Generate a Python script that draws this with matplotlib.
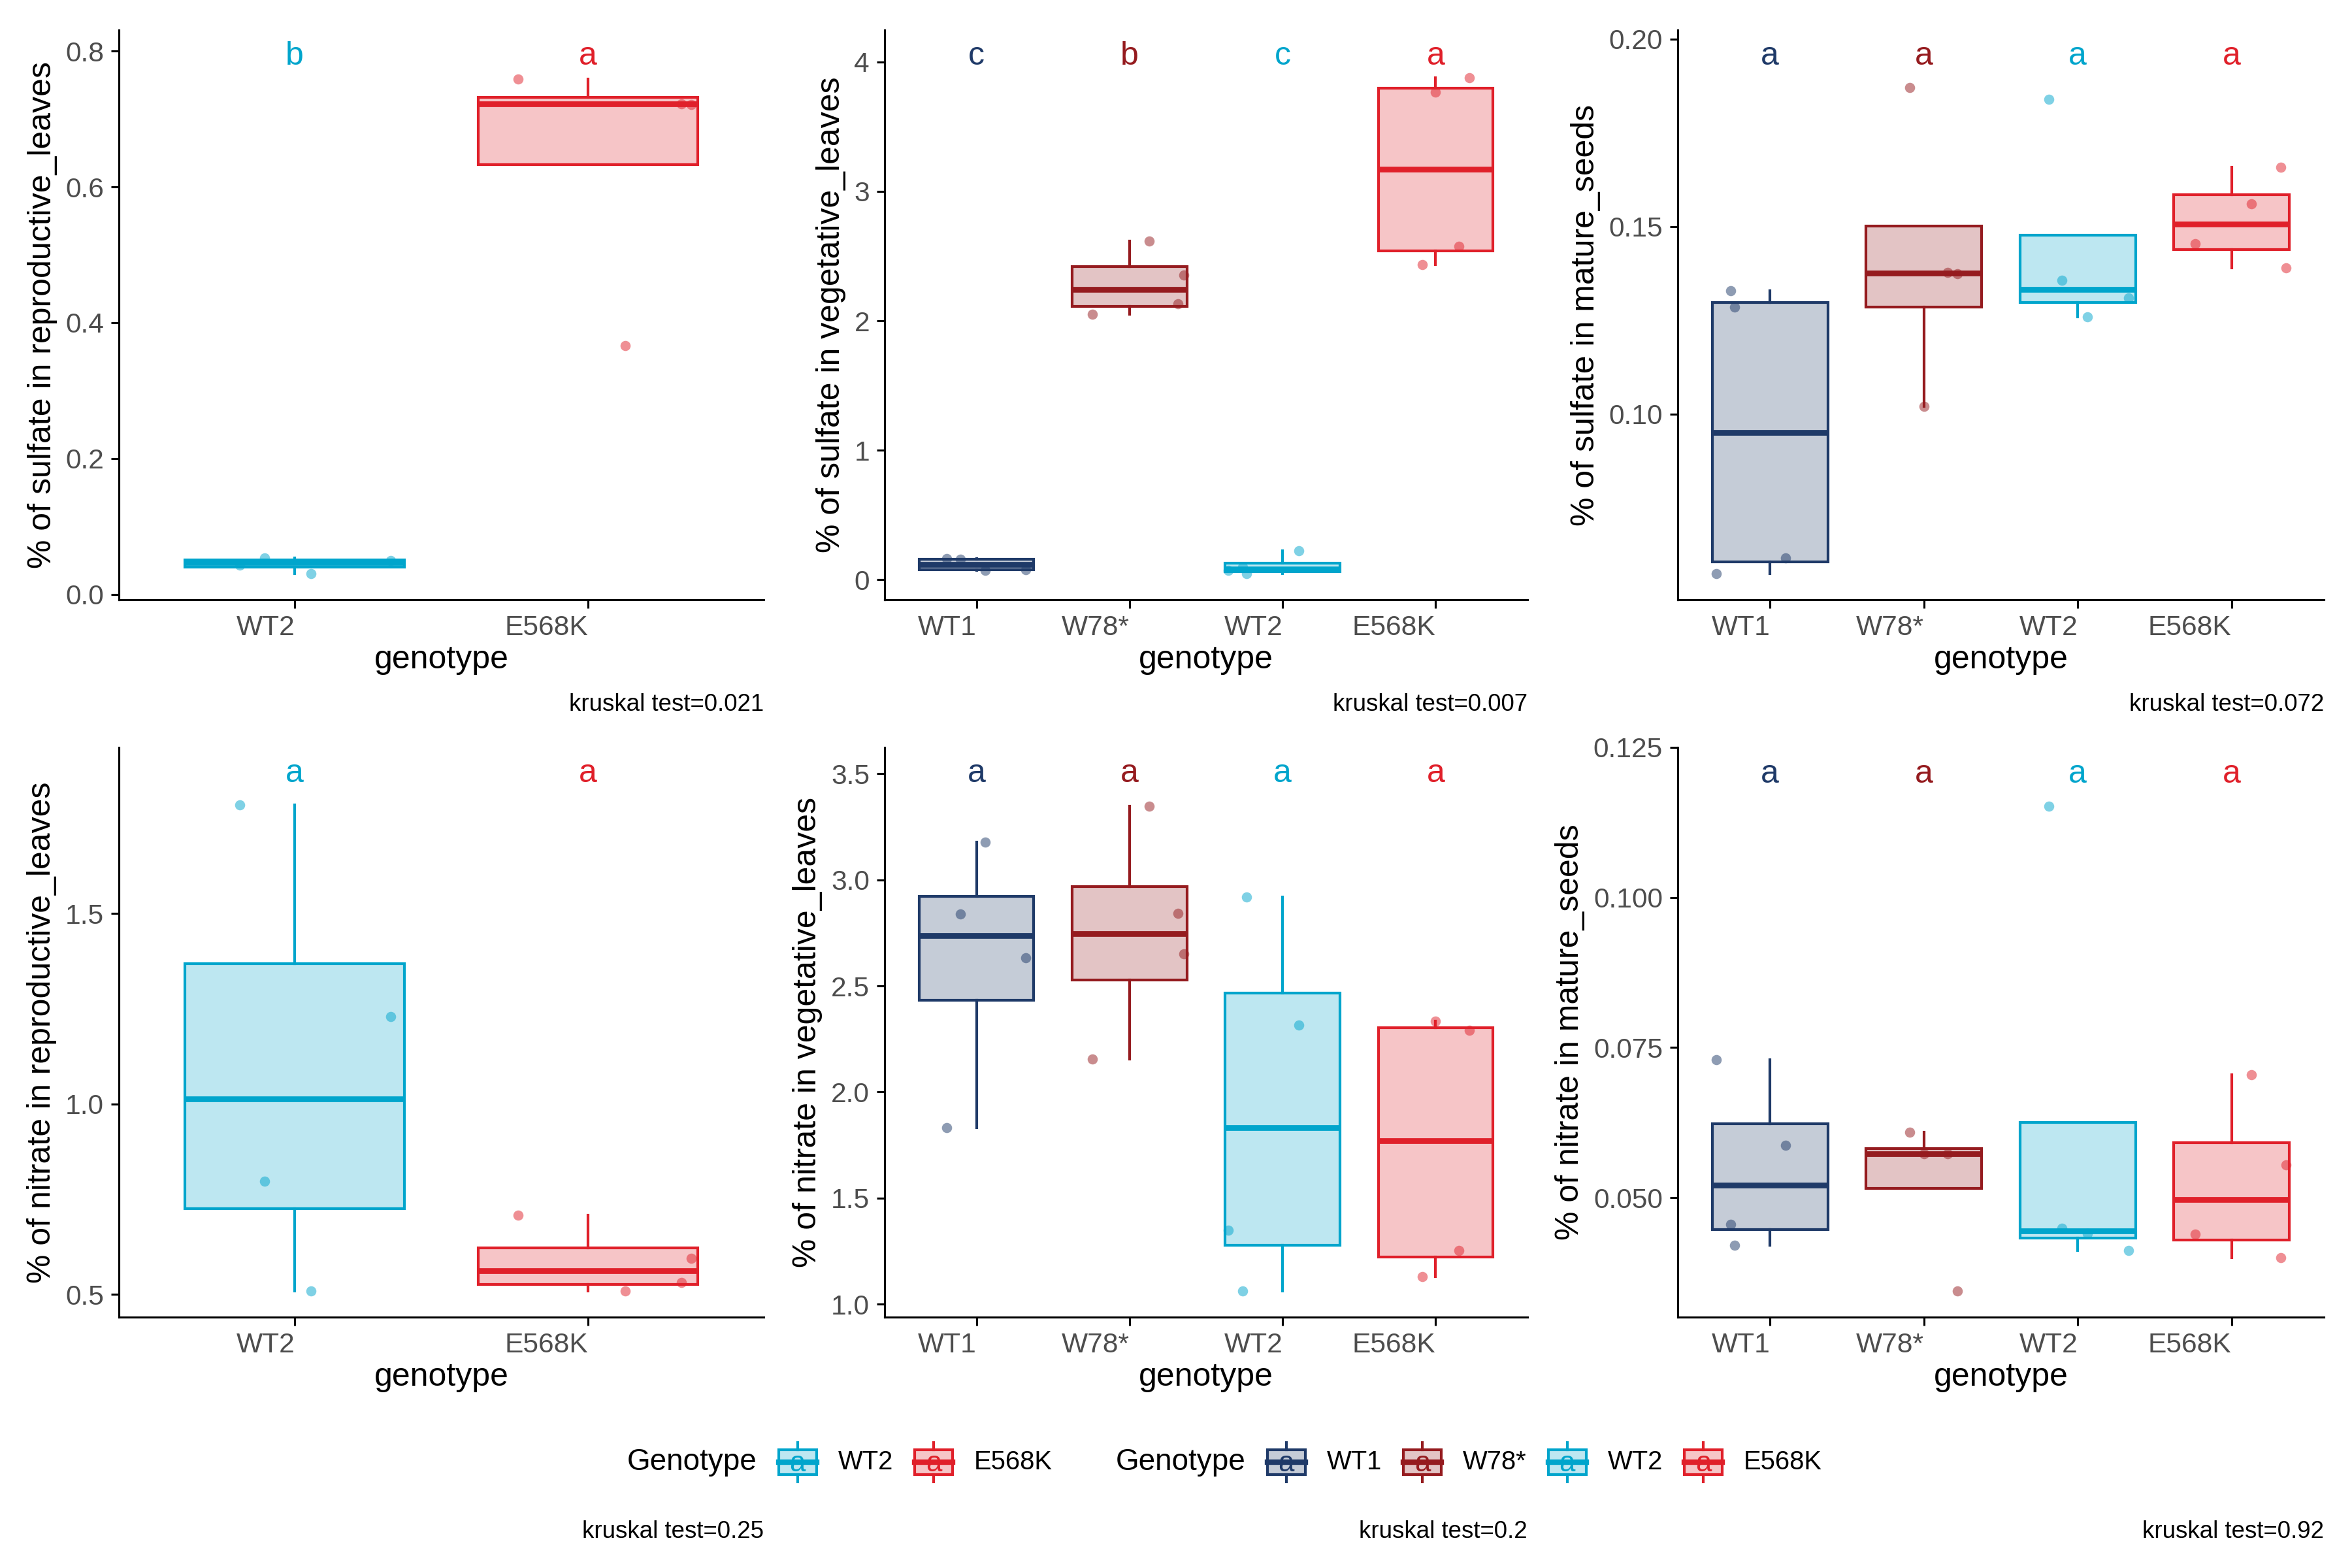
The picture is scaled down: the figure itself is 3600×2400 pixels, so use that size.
import matplotlib
matplotlib.use("Agg")
import numpy as np
import matplotlib.pyplot as plt
from matplotlib.patches import Rectangle
from matplotlib.lines import Line2D

plt.rcParams['font.family'] = ['Liberation Sans', 'DejaVu Sans']

W, H = 3600, 2400

colors = {"WT1": "#1F3A68", "W78*": "#951B1F", "WT2": "#00A5CC", "E568K": "#E0202A"}

geno_2 = ["WT2", "E568K"]
geno_4 = ["WT1", "W78*", "WT2", "E568K"]

# horizontal jitter of the points (one set per layout)
jit_2 = [[-0.188, -0.102, 0.056, 0.328], [-0.239, 0.128, 0.319, 0.353]]
jit_4a = [[-0.196, -0.104, 0.056, 0.323], [-0.242, 0.127, 0.317, 0.353],
          [-0.353, -0.26, -0.235, 0.104], [-0.088, 0.0, 0.153, 0.219]]
jit_4b = [[-0.349, -0.257, -0.231, 0.101], [-0.094, 0.0, 0.153, 0.218],
          [-0.186, -0.101, 0.062, 0.332], [-0.238, 0.130, 0.319, 0.355]]

# measured values (%), same order as the jitter lists
sulfate_repro = [[0.043, 0.053, 0.030, 0.050], [0.759, 0.366, 0.7226, 0.7213]]
sulfate_veg = [[0.163, 0.160, 0.071, 0.078], [2.053, 2.615, 2.131, 2.355],
               [0.071, 0.10, 0.046, 0.224], [2.433, 3.769, 2.575, 3.876]]
sulfate_seed = [[0.0574, 0.1329, 0.1286, 0.0616], [0.187, 0.102, 0.1378, 0.1374],
                [0.184, 0.1356, 0.1259, 0.131], [0.1454, 0.156, 0.1659, 0.139]]
nitrate_repro = [[1.786, 0.797, 0.508, 1.2286], [0.7073, 0.5089, 0.5307, 0.5936]]
nitrate_veg = [[1.833, 2.838, 3.179, 2.634], [2.1545, 3.346, 2.842, 2.651],
               [1.349, 1.061, 2.918, 2.315], [1.130, 2.335, 1.252, 2.291]]
nitrate_seed = [[0.073, 0.0455, 0.0421, 0.0587], [0.0609, 0.0573, 0.0573, 0.0344],
                [0.1152, 0.0449, 0.044, 0.0412], [0.0439, 0.0705, 0.04, 0.0554]]

# significance letters and their height
letters_sr = ["b", "a"]
letters_sv = ["c", "b", "c", "a"]
letters_ss = ["a", "a", "a", "a"]
letters_nr = ["a", "a"]
letters_nv = ["a", "a", "a", "a"]
letters_ns = ["a", "a", "a", "a"]
letter_y = [0.793, 4.046, 0.1955, 1.8685, 3.502, 0.1205]

yticks_sr = [0.0, 0.2, 0.4, 0.6, 0.8]
yticks_sv = [0, 1, 2, 3, 4]
yticks_ss = [0.10, 0.15, 0.20]
yticks_nr = [0.5, 1.0, 1.5]
yticks_nv = [1.0, 1.5, 2.0, 2.5, 3.0, 3.5]
yticks_ns = [0.050, 0.075, 0.100, 0.125]

kruskal = ["0.021", "0.007", "0.072", "0.25", "0.2", "0.92"]


def fx(px):
    return px / W


def fy(py):
    return 1 - py / H


fig = plt.figure(figsize=(12, 8), dpi=300)

cols = [(182, 1169), (1354, 2338), (2568, 3557)]
rows = [(46, 918), (1144, 2016)]

panels = [
    (0, 0, geno_2, sulfate_repro, jit_2, letters_sr, yticks_sr, "{:.1f}",
     "% of sulfate in reproductive_leaves"),
    (0, 1, geno_4, sulfate_veg, jit_4a, letters_sv, yticks_sv, "{:.0f}",
     "% of sulfate in vegetative_leaves"),
    (0, 2, geno_4, sulfate_seed, jit_4b, letters_ss, yticks_ss, "{:.2f}",
     "% of sulfate in mature_seeds"),
    (1, 0, geno_2, nitrate_repro, jit_2, letters_nr, yticks_nr, "{:.1f}",
     "% of nitrate in reproductive_leaves"),
    (1, 1, geno_4, nitrate_veg, jit_4a, letters_nv, yticks_nv, "{:.1f}",
     "% of nitrate in vegetative_leaves"),
    (1, 2, geno_4, nitrate_seed, jit_4b, letters_ns, yticks_ns, "{:.3f}",
     "% of nitrate in mature_seeds"),
]

for i, (r, c, genos, vals, jit, letters, yticks, fmt, ylab) in enumerate(panels):
    x0, x1 = cols[c]
    y0, y1 = rows[r]
    ax = fig.add_axes([fx(x0), fy(y1), (x1 - x0) / W, (y1 - y0) / H])
    pos = np.arange(1, len(genos) + 1)
    bp = ax.boxplot(vals, positions=pos, widths=0.75, patch_artist=True,
                    showfliers=False, showcaps=False, whis=1.5, zorder=2)
    for k, g in enumerate(genos):
        col = colors[g]
        bp['boxes'][k].set(facecolor=matplotlib.colors.to_rgba(col, 0.26),
                           edgecolor=col, linewidth=1.0)
        bp['medians'][k].set(color=col, linewidth=2.1)
        for wl in bp['whiskers'][2 * k:2 * k + 2]:
            wl.set(color=col, linewidth=1.0)
        ax.scatter(pos[k] + np.array(jit[k]), vals[k], s=14, color=col,
                   alpha=0.5, linewidths=0, zorder=3)
        ax.text(pos[k], letter_y[i], letters[k], color=col, fontsize=12,
                ha="center", va="center")
    lo = min(min(v) for v in vals)
    hi = letter_y[i]
    pad = 0.05 * (hi - lo)
    ax.set_ylim(lo - pad, hi + pad)
    ax.set_xlim(0.4, len(genos) + 0.6)
    ax.set_yticks(yticks)
    ax.set_yticklabels([fmt.format(t) for t in yticks])
    ax.set_xticks(pos)
    ax.set_xticklabels(genos, ha="right")
    for s in ["top", "right"]:
        ax.spines[s].set_visible(False)
    for s in ["left", "bottom"]:
        ax.spines[s].set_linewidth(0.75)
    ax.tick_params(axis="both", length=3, width=0.75, pad=2.5,
                   labelsize=10.2, labelcolor="#4D4D4D")
    ax.set_xlabel("genotype", fontsize=12, labelpad=1.5)
    ax.set_ylabel(ylab, fontsize=12, labelpad=3)
    cap_y = 1078 if r == 0 else 2345
    fig.text(fx(x1), fy(cap_y), "kruskal test=" + kruskal[i], fontsize=8.8,
             ha="right", va="center")

# legends drawn by hand, ggplot style (title on the left)
renderer = fig.canvas.get_renderer()
leg_y = 2238
gap = 33
key_w, key_h, whisk = 58, 38, 60


def draw_legend(x_start, genos):
    t = fig.text(fx(x_start), fy(leg_y), "Genotype", fontsize=11,
                 ha="left", va="center")
    x = x_start + t.get_window_extent(renderer).width + gap
    for g in genos:
        col = colors[g]
        fig.add_artist(Rectangle((fx(x), fy(leg_y + key_h / 2)), key_w / W, key_h / H,
                                 transform=fig.transFigure,
                                 facecolor=matplotlib.colors.to_rgba(col, 0.26),
                                 edgecolor=col, linewidth=1.0))
        xm = fx(x + key_w / 2)
        fig.add_artist(Line2D([xm, xm], [fy(leg_y - whisk / 2), fy(leg_y - key_h / 2)],
                              transform=fig.transFigure, color=col, linewidth=1.0))
        fig.add_artist(Line2D([xm, xm], [fy(leg_y + key_h / 2), fy(leg_y + whisk / 2)],
                              transform=fig.transFigure, color=col, linewidth=1.0))
        fig.add_artist(Line2D([fx(x), fx(x + key_w)], [fy(leg_y), fy(leg_y)],
                              transform=fig.transFigure, color=col, linewidth=2.0))
        fig.text(xm, fy(leg_y + 2), "a", color=col, fontsize=10.5,
                 ha="center", va="center")
        lt = fig.text(fx(x + key_w + gap), fy(leg_y), g, fontsize=9.6,
                      ha="left", va="center")
        x = x + key_w + gap + lt.get_window_extent(renderer).width + gap


draw_legend(960, geno_2)
draw_legend(1708, geno_4)

fig.savefig("out.png", dpi=300)
